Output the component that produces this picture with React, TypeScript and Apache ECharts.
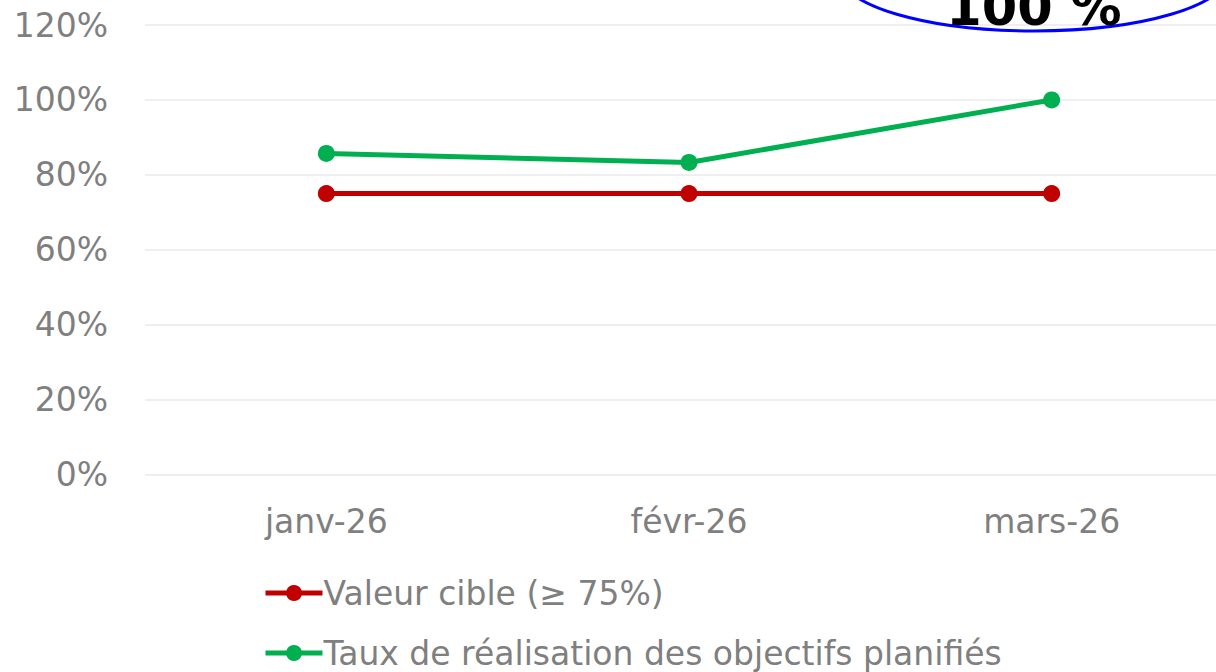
import React, { useEffect, useRef } from "react";
import * as echarts from "echarts";

const categories = ["janv-26", "févr-26", "mars-26"];
const targetValues = [75, 75, 75];
const achievedValues = [85.7, 83.3, 100];
const seriesNames = ["Valeur cible (≥ 75%)", "Taux de réalisation des objectifs planifiés"];
const calloutText = "100 %";

const FONT = "DejaVu Sans";
const GRAY = "#7F7F7F";

export default function App() {
  const ref = useRef<HTMLDivElement>(null);
  useEffect(() => {
    if (!ref.current) return;
    const chart = echarts.init(ref.current, undefined, { renderer: "svg" });
    chart.setOption({
      animation: false,
      backgroundColor: "#ffffff",
      textStyle: { fontFamily: FONT },
      grid: {
        left: 145,
        top: 25,
        width: 1088,
        height: 449.5,
        containLabel: false,
        outerBoundsMode: "none",
      },
      xAxis: {
        type: "category",
        data: categories,
        boundaryGap: true,
        axisLine: { show: false },
        axisTick: { show: false },
        axisLabel: { color: GRAY, fontSize: 33, fontFamily: FONT, margin: 30 },
      },
      yAxis: {
        type: "value",
        min: 0,
        max: 120,
        interval: 20,
        axisLine: { show: false },
        axisTick: { show: false },
        splitLine: { lineStyle: { color: "#EFEFEF", width: 2 } },
        axisLabel: { color: GRAY, fontSize: 33, fontFamily: FONT, margin: 37, formatter: "{value}%" },
      },
      legend: {
        orient: "vertical",
        left: 258,
        top: 568,
        height: 200,
        itemWidth: 57,
        itemHeight: 20,
        itemGap: 20,
        lineStyle: { width: 5 },
        textStyle: { color: GRAY, fontSize: 33, fontFamily: FONT, lineHeight: 40, padding: [0, 0, 0, -4] },
        data: seriesNames,
      },
      series: [
        {
          name: seriesNames[0],
          type: "line",
          data: targetValues,
          symbol: "circle",
          symbolSize: 17,
          itemStyle: { color: "#C00000" },
          lineStyle: { color: "#C00000", width: 5 },
        },
        {
          name: seriesNames[1],
          type: "line",
          data: achievedValues,
          symbol: "circle",
          symbolSize: 17,
          itemStyle: { color: "#00B050" },
          lineStyle: { color: "#00B050", width: 5 },
        },
      ],
      graphic: [
        {
          type: "ellipse",
          shape: { cx: 1034, cy: -26, rx: 194, ry: 57 },
          style: { fill: "none", stroke: "#0000FF", lineWidth: 3 },
          z: 10,
        },
        {
          type: "text",
          x: 1034,
          y: 33,
          style: {
            text: calloutText,
            fontFamily: FONT,
            fontWeight: "bold",
            fontSize: 51,
            fill: "#000000",
            align: "center",
            verticalAlign: "bottom",
          },
          z: 11,
        },
      ],
    });
    return () => chart.dispose();
  }, []);
  return (
    <div
      ref={ref}
      style={{ position: "fixed", left: 0, top: 0, width: 1216, height: 672 }}
    />
  );
}
